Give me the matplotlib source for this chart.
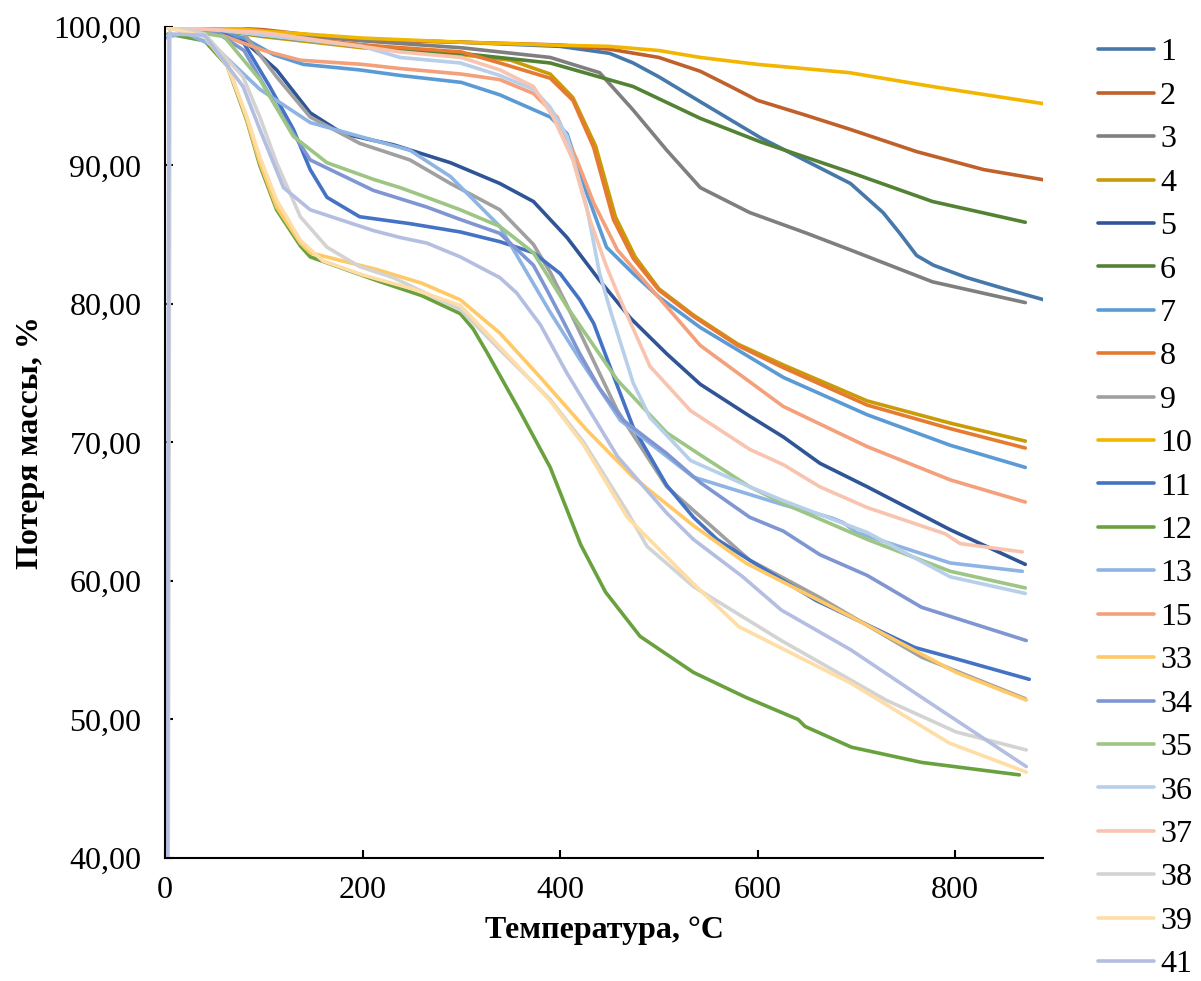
import matplotlib
matplotlib.use('Agg')
import matplotlib.pyplot as plt
from matplotlib.ticker import FuncFormatter

# Temperature (°C) and mass (%)
t1 = [0, 50, 100, 150, 200, 300, 400, 450, 474, 500, 542, 603, 650, 694, 727, 744, 761, 778, 812, 850, 895]
m1 = [100, 99.9, 99.7, 99.4, 99.1, 98.9, 98.6, 98.1, 97.4, 96.4, 94.6, 92.0, 90.3, 88.7, 86.6, 85.1, 83.5, 82.8, 81.9, 81.1, 80.2]
t2 = [0, 50, 100, 150, 200, 300, 400, 450, 500, 542, 570, 600, 650, 694, 761, 829, 895]
m2 = [100, 100, 99.8, 99.4, 99.1, 98.9, 98.7, 98.4, 97.8, 96.8, 95.8, 94.7, 93.6, 92.6, 91.0, 89.7, 88.9]
t3 = [0, 50, 100, 200, 300, 390, 440, 474, 508, 542, 592, 650, 694, 777, 871]
m3 = [100, 99.9, 99.6, 99.0, 98.5, 97.8, 96.7, 94.0, 91.1, 88.4, 86.6, 85.1, 83.9, 81.6, 80.1]
t4 = [0, 50, 100, 200, 300, 350, 390, 413, 436, 456, 476, 500, 535, 580, 626, 711, 795, 871]
m4 = [100, 99.8, 99.3, 98.5, 98.0, 97.6, 96.6, 94.9, 91.4, 86.3, 83.4, 81.1, 79.2, 77.1, 75.6, 73.0, 71.4, 70.1]
t5 = [0, 56, 80, 113, 147, 180, 231, 289, 339, 373, 407, 440, 471, 508, 542, 592, 626, 663, 711, 795, 871]
m5 = [100, 99.8, 99.0, 96.9, 93.8, 92.3, 91.5, 90.2, 88.7, 87.4, 84.8, 81.7, 79.0, 76.4, 74.2, 71.9, 70.4, 68.5, 66.8, 63.7, 61.2]
t6 = [0, 50, 96, 150, 200, 238, 299, 390, 474, 542, 603, 694, 777, 871]
m6 = [100, 99.8, 99.4, 99.0, 98.7, 98.4, 98.1, 97.4, 95.7, 93.4, 91.7, 89.5, 87.4, 85.9]
t7 = [0, 50, 80, 110, 140, 197, 238, 300, 339, 390, 407, 427, 447, 474, 500, 542, 626, 711, 795, 871]
m7 = [100, 99.7, 99.2, 98.0, 97.3, 96.9, 96.5, 96.0, 95.1, 93.5, 92.3, 88.0, 84.1, 82.2, 80.5, 78.3, 74.7, 72.0, 69.8, 68.2]
t8 = [0, 50, 100, 200, 300, 339, 390, 413, 434, 454, 474, 500, 535, 580, 626, 711, 795, 871]
m8 = [100, 99.9, 99.5, 98.7, 98.2, 97.4, 96.3, 94.7, 91.3, 86.1, 83.3, 81.0, 79.1, 77.0, 75.4, 72.7, 71.0, 69.6]
t9 = [0, 60, 79, 113, 147, 197, 248, 289, 339, 373, 390, 407, 458, 508, 535, 592, 624, 663, 766, 871]
m9 = [100, 99.9, 99.6, 96.4, 93.5, 91.6, 90.4, 88.7, 86.8, 84.3, 82.3, 79.9, 72.3, 66.8, 65.1, 61.5, 60.3, 58.8, 54.5, 51.5]
t10 = [0, 60, 100, 200, 300, 390, 450, 500, 542, 600, 693, 777, 895]
m10 = [100, 100, 99.7, 99.2, 98.9, 98.7, 98.6, 98.3, 97.8, 97.3, 96.7, 95.7, 94.4]
t11 = [0, 50, 80, 106, 130, 147, 164, 197, 248, 299, 339, 373, 400, 420, 434, 452, 474, 508, 535, 559, 592, 659, 759, 800, 875]
m11 = [100, 99.8, 98.8, 95.7, 92.6, 89.7, 87.7, 86.3, 85.8, 85.2, 84.5, 83.7, 82.2, 80.3, 78.6, 75.2, 71.1, 66.9, 64.6, 63.0, 61.5, 58.6, 55.2, 54.4, 52.9]
t12 = [3, 40, 63, 83, 96, 113, 137, 147, 214, 260, 299, 312, 326, 359, 390, 400, 421, 446, 481, 535, 588, 641, 648, 695, 766, 865]
m12 = [99.5, 99.0, 97.2, 93.2, 90.0, 86.8, 84.2, 83.4, 81.7, 80.6, 79.3, 78.2, 76.5, 72.3, 68.2, 66.4, 62.6, 59.2, 56.0, 53.4, 51.6, 50.0, 49.5, 48.0, 46.9, 46.0]
t13 = [0, 20, 50, 96, 147, 197, 248, 289, 339, 390, 420, 461, 535, 626, 663, 677, 687, 700, 795, 868]
m13 = [99.2, 99.6, 98.6, 95.5, 93.1, 92.1, 91.1, 89.2, 85.6, 79.4, 76.0, 71.6, 67.5, 65.5, 64.8, 64.5, 64.2, 63.5, 61.3, 60.7]
t15 = [0, 50, 100, 137, 200, 238, 300, 339, 373, 397, 417, 434, 458, 508, 542, 626, 711, 795, 871]
m15 = [100, 99.6, 98.3, 97.6, 97.3, 97.0, 96.6, 96.2, 95.2, 93.5, 90.4, 87.3, 83.9, 79.8, 77.0, 72.6, 69.7, 67.3, 65.7]
t33 = [0, 40, 63, 83, 96, 113, 137, 147, 180, 214, 260, 299, 339, 380, 427, 474, 535, 588, 695, 801, 872]
m33 = [100, 99.3, 97.4, 93.3, 90.2, 87.0, 84.4, 83.7, 83.1, 82.5, 81.5, 80.3, 77.9, 74.7, 70.9, 67.5, 64.0, 61.3, 57.4, 53.4, 51.4]
t34 = [0, 50, 80, 113, 147, 211, 265, 299, 339, 373, 386, 400, 420, 440, 464, 508, 542, 592, 626, 663, 711, 766, 872]
m34 = [100, 99.7, 98.3, 94.2, 90.4, 88.2, 87.0, 86.1, 85.1, 82.8, 81.1, 79.2, 76.4, 73.9, 71.6, 69.2, 67.1, 64.6, 63.6, 61.9, 60.4, 58.1, 55.7]
t35 = [0, 60, 96, 130, 164, 211, 238, 265, 299, 339, 373, 407, 458, 508, 542, 592, 626, 711, 795, 871]
m35 = [100, 99.3, 96.2, 92.1, 90.2, 89.0, 88.4, 87.7, 86.8, 85.6, 83.7, 79.8, 74.5, 70.7, 69.1, 66.8, 65.6, 63.0, 60.7, 59.5]
t36 = [0, 50, 100, 200, 238, 299, 339, 373, 390, 407, 427, 440, 451, 474, 491, 532, 592, 626, 711, 795, 871]
m36 = [100, 99.8, 99.4, 98.6, 97.8, 97.4, 96.5, 95.5, 94.2, 92.1, 87.0, 82.2, 79.5, 74.3, 71.8, 68.7, 66.8, 65.8, 63.5, 60.3, 59.1]
t37 = [0, 50, 100, 238, 300, 339, 373, 393, 413, 430, 447, 461, 491, 532, 592, 626, 663, 711, 790, 805, 868]
m37 = [100, 99.8, 99.6, 98.2, 97.8, 96.9, 95.7, 93.5, 90.4, 86.1, 82.7, 80.3, 75.5, 72.3, 69.5, 68.4, 66.8, 65.3, 63.4, 62.7, 62.1]
t38 = [3, 5, 40, 79, 96, 113, 137, 164, 197, 231, 299, 339, 390, 424, 468, 488, 535, 624, 730, 801, 872]
m38 = [30, 100, 99.5, 96.4, 93.5, 90.2, 86.3, 84.1, 82.7, 81.9, 79.6, 76.7, 73.1, 70.0, 65.0, 62.5, 59.6, 55.7, 51.4, 49.1, 47.8]
t39 = [0, 40, 63, 83, 96, 113, 137, 160, 200, 250, 299, 339, 390, 424, 468, 535, 581, 695, 794, 872]
m39 = [100, 99.3, 97.2, 93.5, 90.6, 87.5, 84.6, 83.1, 82.1, 81.1, 79.9, 76.9, 73.0, 69.8, 64.6, 59.8, 56.7, 52.6, 48.3, 46.2]
t41 = [2, 4, 40, 79, 96, 120, 147, 211, 238, 265, 299, 339, 356, 380, 407, 458, 508, 535, 585, 624, 695, 766, 872]
m41 = [30, 99.5, 99.4, 95.7, 92.6, 88.4, 86.8, 85.3, 84.8, 84.4, 83.4, 81.9, 80.8, 78.5, 75.0, 69.0, 64.9, 63.0, 60.3, 57.9, 55.0, 51.6, 46.6]

labels = ['1', '2', '3', '4', '5', '6', '7', '8', '9', '10', '11', '12', '13', '15',
          '33', '34', '35', '36', '37', '38', '39', '41']
temps = [t1, t2, t3, t4, t5, t6, t7, t8, t9, t10, t11, t12, t13, t15,
         t33, t34, t35, t36, t37, t38, t39, t41]
masses = [m1, m2, m3, m4, m5, m6, m7, m8, m9, m10, m11, m12, m13, m15,
          m33, m34, m35, m36, m37, m38, m39, m41]
colors = ['#4678AA', '#C0602A', '#7F7F7F', '#C99B06', '#2F5597', '#548235',
          '#5B9BD5', '#E57A30', '#A0A0A0', '#F2B600', '#4472C4', '#6AA13F',
          '#8EB4E3', '#F4A07A', '#FFC966', '#7F96D2', '#9DC584', '#B8CFEA',
          '#F8C4B0', '#D3D3D3', '#FFDDA6', '#B4BEE0']

plt.rcParams['font.family'] = ['Liberation Serif', 'DejaVu Serif']

fig = plt.figure(figsize=(12.01, 9.81), dpi=100)
ax = fig.add_axes([0.1374, 0.1254, 0.7311, 0.8471])

for t, m, c, lab in zip(temps, masses, colors, labels):
    ax.plot(t, m, color=c, lw=2.6, label=lab, solid_capstyle='round',
            solid_joinstyle='round')

ax.set_xlim(0, 889)
ax.set_ylim(40, 100)
ax.set_xticks([0, 200, 400, 600, 800])
ax.set_yticks([40, 50, 60, 70, 80, 90, 100])
ax.yaxis.set_major_formatter(FuncFormatter(lambda v, p: f'{v:.2f}'.replace('.', ',')))

for side in ['top', 'right']:
    ax.spines[side].set_visible(False)
for side in ['left', 'bottom']:
    ax.spines[side].set_linewidth(1.5)

ax.tick_params(axis='both', direction='in', length=6, width=1.5, labelsize=23)
ax.tick_params(axis='x', pad=13)
ax.tick_params(axis='y', pad=17)

ax.set_xlabel('Температура, °C', fontsize=23, fontweight='bold', labelpad=8)
ax.set_ylabel('Потеря массы, %', fontsize=23, fontweight='bold', labelpad=6)

fig.legend(loc='center left', bbox_to_anchor=(0.914, 0.4815), frameon=False,
           fontsize=23, handlelength=1.75, handletextpad=0.2, labelspacing=0.44,
           borderpad=0, borderaxespad=0)

fig.savefig('out.png', dpi=100)
